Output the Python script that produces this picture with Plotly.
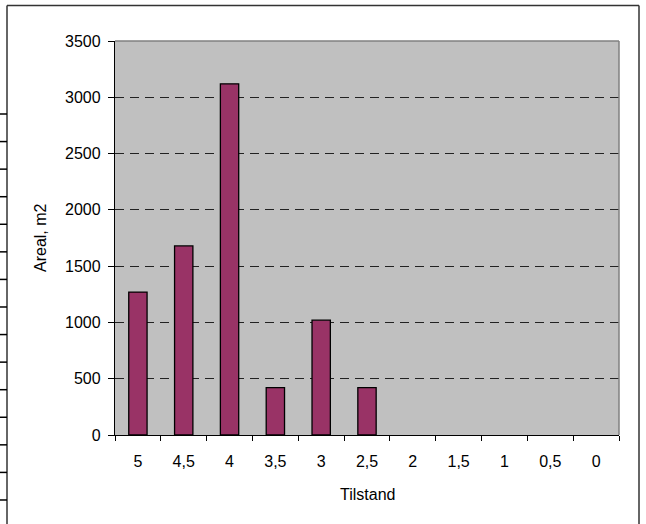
import plotly.graph_objects as go

categories = ["5", "4,5", "4", "3,5", "3", "2,5", "2", "1,5", "1", "0,5", "0"]
areal = [1270, 1680, 3120, 420, 1020, 420, 0, 0, 0, 0, 0]
y_ticks = [0, 500, 1000, 1500, 2000, 2500, 3000, 3500]

W, H = 646, 524
L, R, T, B = 115, 619, 41, 435

def px(x):
    return (x - L) / (R - L)

def py(y):
    return (B - y) / (B - T)

font = dict(family="Liberation Sans, Arial, sans-serif", size=16, color="#000000")

fig = go.Figure()
fig.add_trace(go.Bar(
    x=categories, y=areal,
    marker=dict(color="#993366",
                line=dict(color="#000000", width=[1.3 if v > 0 else 0 for v in areal])),
    width=0.4,
))

shapes = []
border = dict(color="#333333", width=1.5)
# chart outer border (top, left, right)
shapes.append(dict(type="line", xref="paper", yref="paper",
                   x0=px(7), x1=px(639), y0=py(5.5), y1=py(5.5), line=border))
shapes.append(dict(type="line", xref="paper", yref="paper",
                   x0=px(7), x1=px(7), y0=py(5.5), y1=py(530), line=border))
shapes.append(dict(type="line", xref="paper", yref="paper",
                   x0=px(639), x1=px(639), y0=py(5.5), y1=py(530), line=border))
# plot area top/right border (gray)
shapes.append(dict(type="line", xref="paper", yref="paper",
                   x0=0, x1=1, y0=1, y1=1, line=dict(color="#808080", width=1.5)))
shapes.append(dict(type="line", xref="paper", yref="paper",
                   x0=1, x1=1, y0=0, y1=1, line=dict(color="#808080", width=1.5)))
# table lines visible at left edge
for i in range(15):
    yy = 114 + i * 27.57
    shapes.append(dict(type="line", xref="paper", yref="paper",
                       x0=px(0), x1=px(7), y0=py(yy), y1=py(yy),
                       line=dict(color="#000000", width=1.5)))

fig.update_layout(
    width=W, height=H,
    margin=dict(l=L, r=W - R, t=T, b=H - B),
    paper_bgcolor="#FFFFFF",
    plot_bgcolor="#C0C0C0",
    font=font,
    showlegend=False,
    shapes=shapes,
    annotations=[
        dict(text="Areal, m2", xref="paper", yref="paper", x=px(40), y=py(238),
             textangle=-90, showarrow=False, font=font, xanchor="center", yanchor="middle"),
        dict(text="Tilstand", xref="paper", yref="paper", x=px(367), y=py(494),
             showarrow=False, font=font, xanchor="center", yanchor="middle"),
    ],
)

fig.update_xaxes(
    type="category", range=[-0.5, 10.5],
    showline=True, linecolor="#000000", linewidth=1.3,
    ticks="outside", ticklen=5, tickcolor="#000000", tickwidth=1,
    tickson="boundaries", showgrid=False, zeroline=False,
    ticklabelstandoff=12, tickfont=font,
)
fig.update_yaxes(
    range=[0, 3500], tickvals=y_ticks, ticktext=[str(v) for v in y_ticks],
    showline=True, linecolor="#000000", linewidth=1.3,
    ticks="outside", ticklen=6, tickcolor="#000000", tickwidth=1,
    showgrid=True, gridcolor="#222222", gridwidth=1, griddash="9px,6px",
    zeroline=False, ticklabelstandoff=4, tickfont=font,
)

fig.write_html("out.html", config={"displayModeBar": False},
               post_script="document.body.style.margin='0';")
